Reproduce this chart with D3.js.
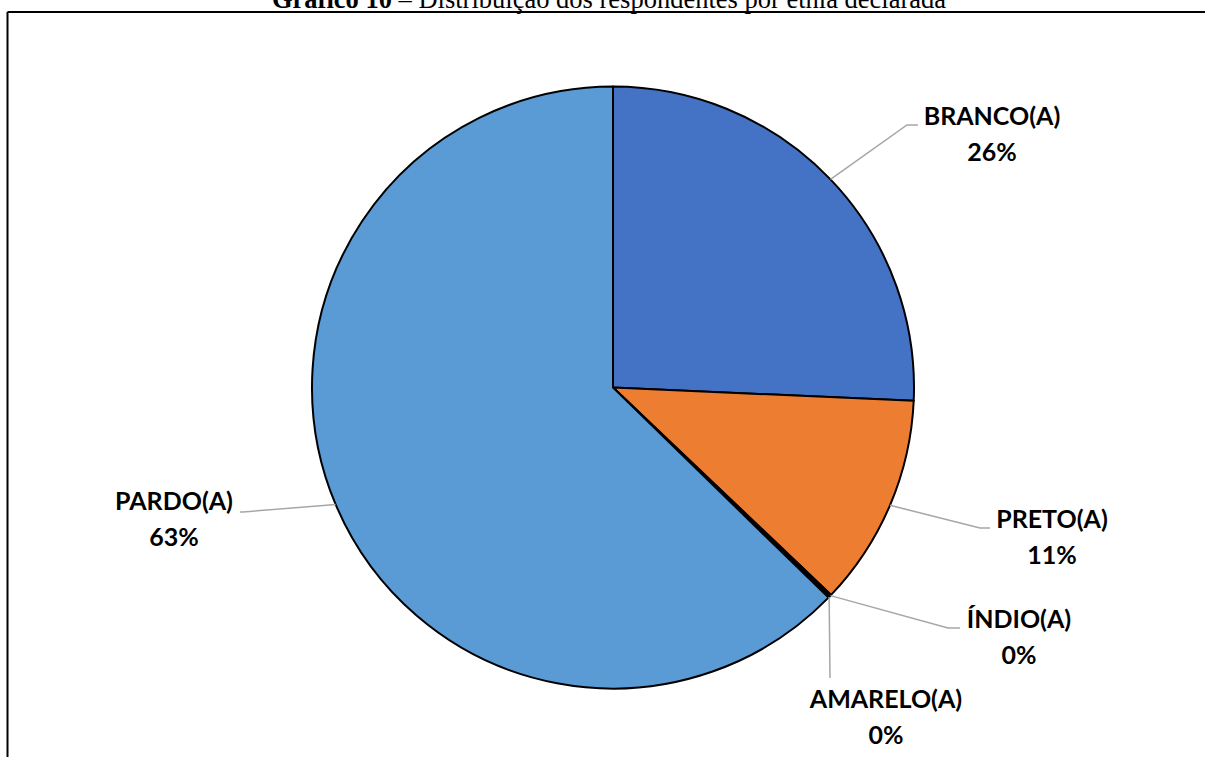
<!DOCTYPE html>
<html><head><meta charset="utf-8">
<script src="https://cdn.jsdelivr.net/npm/d3@7"></script>
<style>
html,body{margin:0;padding:0;background:#fff;overflow:hidden}
</style></head>
<body>
<svg id="chart" width="1205" height="757"></svg>
<script>
// ---- data ----
const categories = ["BRANCO(A)", "PRETO(A)", "ÍNDIO(A)", "AMARELO(A)", "PARDO(A)"];
const values = [25.7, 11.4, 0.1, 0.1, 62.7];
const colors = ["#4472C4", "#ED7D31", "#A5A5A5", "#FFC000", "#5B9BD5"];
const titleBold = "Gráfico 10";
const titleRest = " – Distribuição dos respondentes por etnia declarada";

// ---- label layout (positions only) ----
const labelLayout = [
  {x: 992,  y: 125, knee: [907, 125], end: [918, 125]},
  {x: 1052, y: 528, knee: [980, 528], end: [990, 528]},
  {x: 1019, y: 628, knee: [948, 628], end: [960, 628]},
  {x: 886,  y: 708, knee: [830, 678], end: [830, 678]},
  {x: 174,  y: 510, knee: [243, 512], end: [240, 512]}
];

const svg = d3.select("#chart");
const cx = 613, cy = 387.5, R = 301;

// frame lines
svg.append("line").attr("x1", 7.5).attr("y1", 12).attr("x2", 1205).attr("y2", 12)
  .attr("stroke", "#000").attr("stroke-width", 2);
svg.append("line").attr("x1", 7.5).attr("y1", 12).attr("x2", 7.5).attr("y2", 757)
  .attr("stroke", "#000").attr("stroke-width", 2);

// title
const t = svg.append("text").attr("x", 609).attr("y", 8).attr("text-anchor", "middle")
  .attr("font-family", "'Liberation Serif','Times New Roman',serif").attr("font-size", 26.5).attr("fill", "#000");
t.append("tspan").attr("font-weight", "bold").text(titleBold);
t.append("tspan").text(titleRest);

const total = d3.sum(values);
const data = categories.map((c, i) => ({cat: c, value: values[i], color: colors[i], i}));
const pie = d3.pie().value(d => d.value).sort(null);
const arcs = pie(data);
const arc = d3.arc().innerRadius(0).outerRadius(R);

const g = svg.append("g").attr("transform", `translate(${cx},${cy})`);
g.selectAll("path").data(arcs).join("path")
  .attr("d", arc).attr("fill", d => d.data.color)
  .attr("stroke", "#000").attr("stroke-width", 2).attr("stroke-linejoin", "round");

// leader lines
arcs.forEach((a, i) => {
  const mid = (a.startAngle + a.endAngle) / 2;
  const px = cx + R * Math.sin(mid), py = cy - R * Math.cos(mid);
  const L = labelLayout[i];
  svg.append("polyline")
    .attr("points", [[px, py], L.knee, L.end].map(p => p.join(",")).join(" "))
    .attr("fill", "none").attr("stroke", "#A6A6A6").attr("stroke-width", 1.5);
});

// labels
arcs.forEach((a, i) => {
  const L = labelLayout[i];
  const pct = Math.round(a.data.value / total * 100) + "%";
  const txt = svg.append("text").attr("text-anchor", "middle")
    .attr("font-family", "Lato, 'Open Sans', sans-serif").attr("font-weight", "bold")
    .attr("font-size", 25).attr("fill", "#000");
  txt.append("tspan").attr("x", L.x).attr("y", L.y).text(a.data.cat);
  txt.append("tspan").attr("x", L.x).attr("y", L.y + 36).text(pct);
});
</script>
</body></html>
